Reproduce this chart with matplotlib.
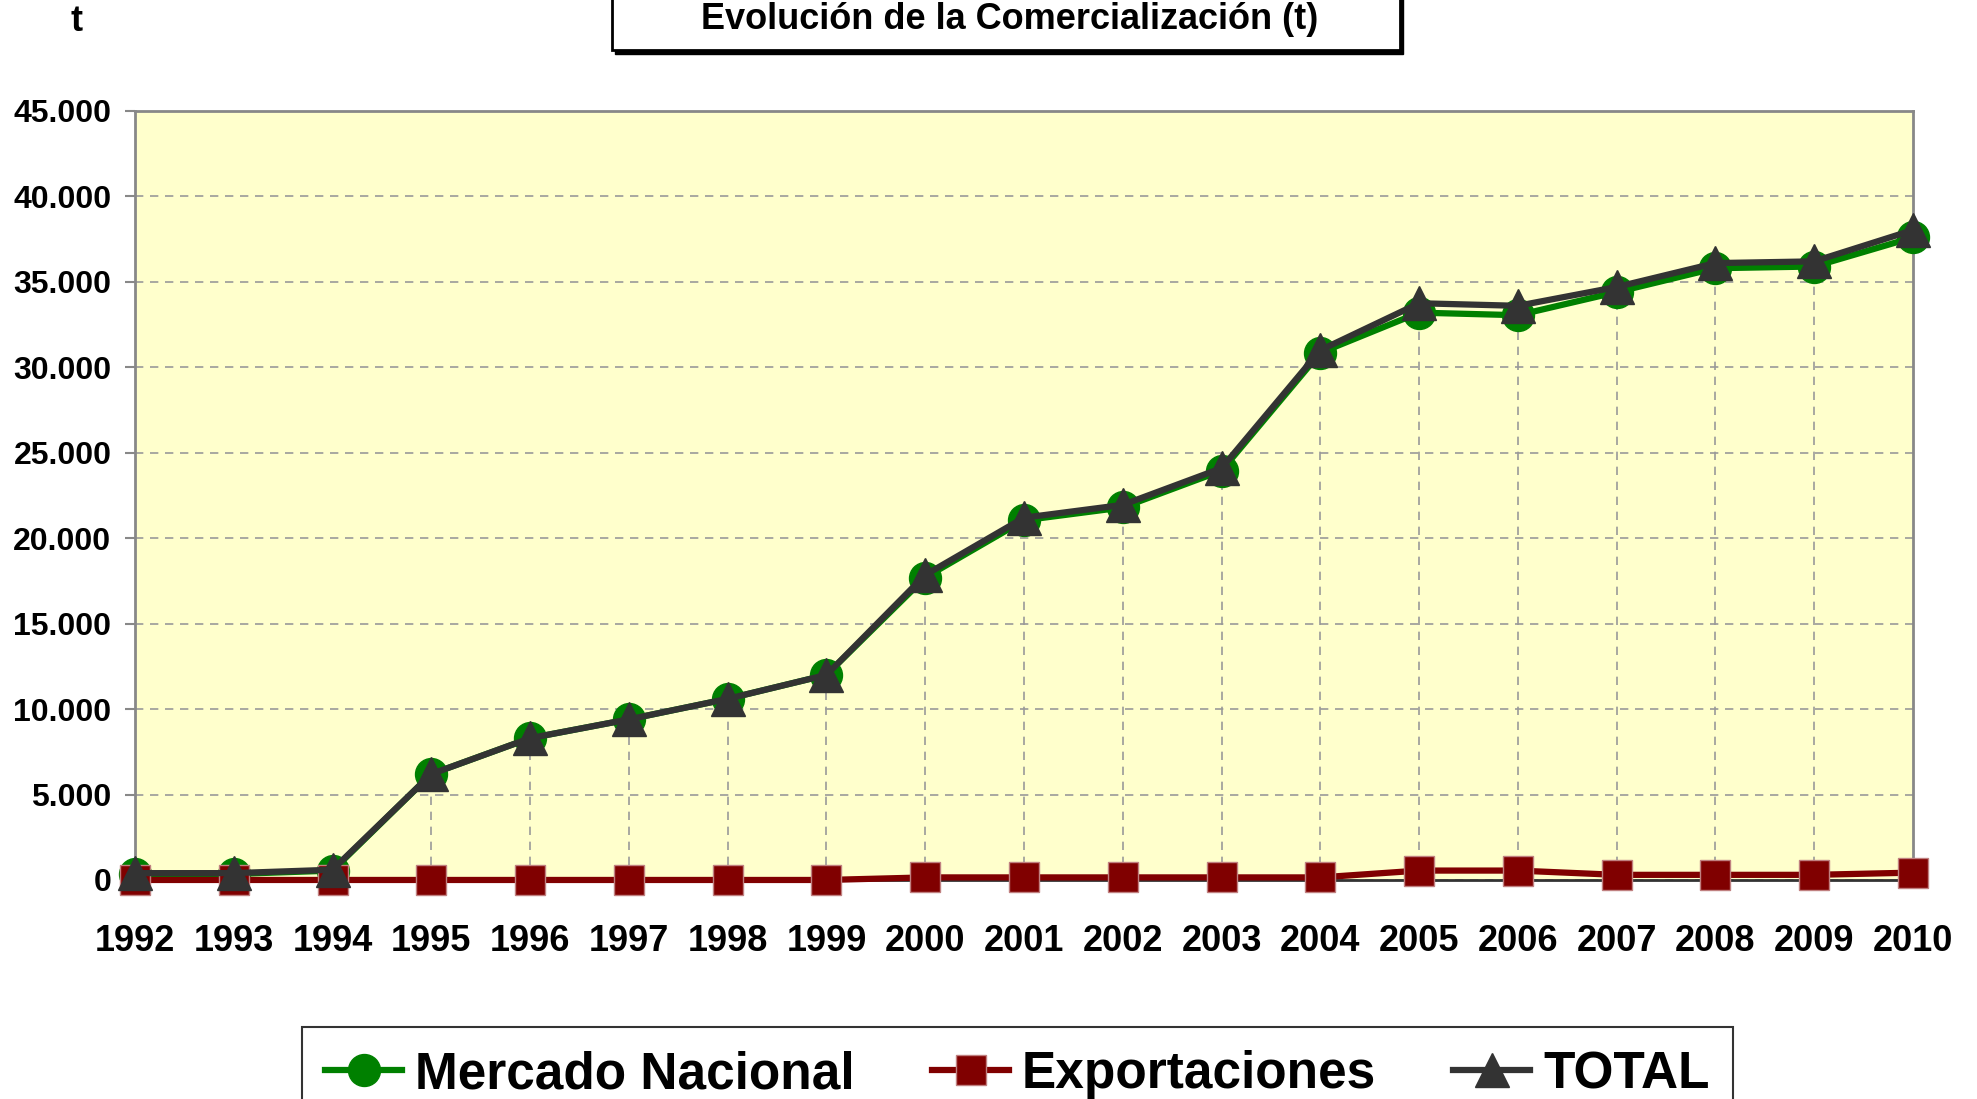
import matplotlib
matplotlib.use('Agg')
import matplotlib.pyplot as plt
from matplotlib.patches import Rectangle
from matplotlib.ticker import FuncFormatter

plt.rcParams['font.family'] = ['Liberation Sans', 'DejaVu Sans']
plt.rcParams['font.weight'] = 'bold'

years = [1992, 1993, 1994, 1995, 1996, 1997, 1998, 1999, 2000, 2001,
         2002, 2003, 2004, 2005, 2006, 2007, 2008, 2009, 2010]
mercado = [350, 350, 550, 6200, 8300, 9400, 10600, 12000, 17700, 21050,
           21800, 23950, 30850, 33200, 33050, 34400, 35800, 35900, 37600]
export = [0, 0, 0, 0, 0, 0, 0, 0, 150, 150,
          150, 150, 150, 550, 550, 300, 300, 300, 430]
total = [400, 400, 600, 6200, 8300, 9400, 10600, 12000, 17850, 21200,
         21950, 24100, 31000, 33750, 33600, 34700, 36100, 36200, 38030]

fig = plt.figure(figsize=(19.77, 10.99), dpi=100)
ax = fig.add_axes([0.0683, 0.1993, 0.8993, 0.6997])
ax.set_facecolor('#FFFFCC')

# lineas verticales bajo los puntos
ax.vlines(years[1:-1], 0, total[1:-1], colors='#999999', linestyles=(0, (5, 4)), lw=1.2, zorder=1)

l1, = ax.plot(years, mercado, color='#008000', lw=4.5, marker='o', ms=23,
              mec='#008000', clip_on=False, zorder=3, label='Mercado Nacional')
l2, = ax.plot(years, export, color='#800000', lw=4.5, marker='s', ms=22,
              mec='#C08080', mew=1, clip_on=False, zorder=4, label='Exportaciones')
l3, = ax.plot(years, total, color='#333333', lw=4.5, marker='^', ms=25,
              mec='#333333', clip_on=False, zorder=5, label='TOTAL')

ax.set_xlim(1992, 2010)
ax.set_ylim(0, 45000)
ax.set_yticks(range(0, 45001, 5000))
ax.yaxis.set_major_formatter(FuncFormatter(lambda v, p: f'{int(v):,}'.replace(',', '.')))
ax.set_xticks(years)
ax.grid(axis='y', color='#999999', linestyle=(0, (5, 4)), lw=1.2)
ax.set_axisbelow(True)
for s in ['left', 'top', 'right']:
    ax.spines[s].set_color('#888888')
    ax.spines[s].set_linewidth(2)
ax.spines['bottom'].set_color('#333333')
ax.spines['bottom'].set_linewidth(2)
ax.tick_params(axis='y', labelsize=23, length=7, width=1.5, color='#888888', pad=10)
ax.tick_params(axis='x', labelsize=26, length=0, pad=32)

fig.text(0.0385, 0.98, 't', fontsize=26, fontweight='bold', ha='center', va='center')

# caja del titulo con sombra
fig.patches.append(Rectangle((0.3111, 0.9505), 0.3986, 0.1, transform=fig.transFigure,
                             facecolor='black', edgecolor='black', zorder=1))
fig.patches.append(Rectangle((0.3096, 0.9545), 0.3986, 0.1, transform=fig.transFigure,
                             facecolor='white', edgecolor='black', lw=2, zorder=2))
fig.text(0.5105, 0.998, 'Evolución de la Comercialización (t)', fontsize=26,
         fontweight='bold', ha='center', va='top', zorder=3)

leg = fig.legend(handles=[l1, l2, l3], loc='upper center', bbox_to_anchor=(0.5147, 0.0655),
                 ncol=3, fontsize=37, frameon=True, fancybox=False, edgecolor='black',
                 handlelength=1.5, handletextpad=0.25, columnspacing=1.5, markerscale=1.0,
                 borderpad=0.45, borderaxespad=0)
leg.get_frame().set_linewidth(1.5)

fig.savefig('out.png', dpi=100)
